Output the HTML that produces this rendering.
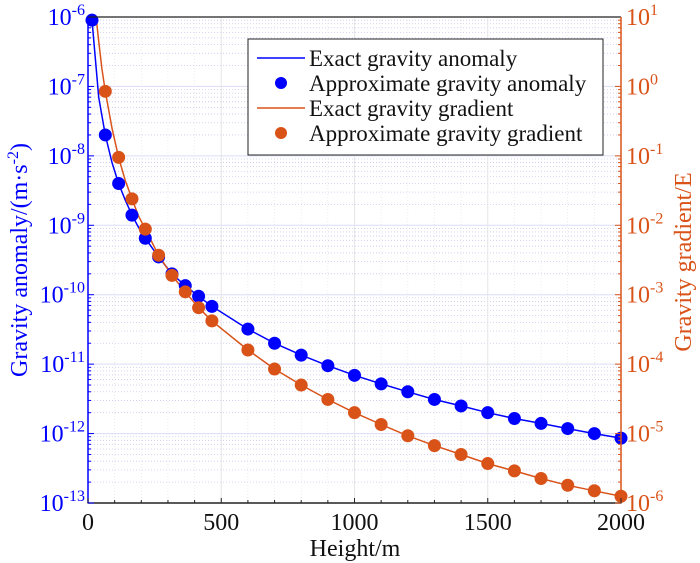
<!DOCTYPE html>
<html><head><meta charset="utf-8"><style>
html,body{margin:0;padding:0;background:#fff;}
svg{display:block;font-family:"Liberation Serif",serif;}
</style></head><body>
<svg id="chart" width="700" height="563" viewBox="0 0 700 563">
<g id="grid"></g>
<g id="series"></g>
<g id="axes"></g>
<text x="355" y="556" font-size="24" text-anchor="middle" fill="#111">Height/m</text>
<text transform="translate(27,260) rotate(-90)" font-size="24" text-anchor="middle" fill="#0000ff">Gravity anomaly/(m·s<tspan dy="-9" font-size="16">-2</tspan><tspan dy="9">)</tspan></text>
<text transform="translate(691,262) rotate(-90)" font-size="24" text-anchor="middle" fill="#d95319">Gravity gradient/E</text>
<g>
<rect x="248" y="39" width="355" height="116" fill="#fff" stroke="#222" stroke-width="1"/>
<g><line x1="257" y1="58" x2="305" y2="58" stroke="#0000ff" stroke-width="1.5"/><text x="309" y="66" font-size="23" fill="#111">Exact gravity anomaly</text></g>
<g><circle cx="281" cy="83" r="6" fill="#0000ff"/><text x="309" y="91" font-size="23" fill="#111">Approximate gravity anomaly</text></g>
<g><line x1="257" y1="108" x2="305" y2="108" stroke="#d95319" stroke-width="1.5"/><text x="309" y="116" font-size="23" fill="#111">Exact gravity gradient</text></g>
<g><circle cx="281" cy="133" r="6" fill="#d95319"/><text x="309" y="141" font-size="23" fill="#111">Approximate gravity gradient</text></g>
</g>
</svg>
<script>
const heights = [15,65,115,165,215,265,315,365,415,465,600,700,800,900,1000,1100,1200,1300,1400,1500,1600,1700,1800,1900,2000];
const anomalyValues = [9e-7,2e-8,4e-9,1.4e-9,6.5e-10,3.5e-10,2e-10,1.35e-10,9.5e-11,6.8e-11,3.2e-11,2e-11,1.35e-11,9.5e-12,6.9e-12,5.2e-12,4e-12,3.1e-12,2.5e-12,2e-12,1.65e-12,1.4e-12,1.18e-12,1e-12,8.6e-13];
const gradientHeights = [65,115,165,215,265,315,365,415,465,600,700,800,900,1000,1100,1200,1300,1400,1500,1600,1700,1800,1900,2000];
const gradientValues = [0.85,0.095,0.024,0.0088,0.0037,0.0019,0.0011,6.5e-4,4.2e-4,1.6e-4,8.5e-5,5e-5,3.1e-5,2e-5,1.35e-5,9.3e-6,6.7e-6,5e-6,3.7e-6,2.9e-6,2.25e-6,1.8e-6,1.5e-6,1.25e-6];
const exactAnomalyHeights = [5,15,40,65,90,115,140,165,190,215,265,315,365,415,465,600,700,800,900,1000,1100,1200,1300,1400,1500,1600,1700,1800,1900,2000];
const exactAnomalyValues = [1.2e-6,9e-7,7e-8,2e-8,8e-9,4e-9,2.3e-9,1.4e-9,9.3e-10,6.5e-10,3.5e-10,2e-10,1.35e-10,9.5e-11,6.8e-11,3.2e-11,2e-11,1.35e-11,9.5e-12,6.9e-12,5.2e-12,4e-12,3.1e-12,2.5e-12,2e-12,1.65e-12,1.4e-12,1.18e-12,1e-12,8.6e-13];
const exactGradientHeights = [28,40,52,65,90,115,140,165,190,215,265,315,365,415,465,600,700,800,900,1000,1100,1200,1300,1400,1500,1600,1700,1800,1900,2000];
const exactGradientValues = [12,4.5,1.8,0.85,0.25,0.095,0.044,0.024,0.0135,0.0088,0.0037,0.0019,0.0011,6.5e-4,4.2e-4,1.6e-4,8.5e-5,5e-5,3.1e-5,2e-5,1.35e-5,9.3e-6,6.7e-6,5e-6,3.7e-6,2.9e-6,2.25e-6,1.8e-6,1.5e-6,1.25e-6];
const xTicks = [0,500,1000,1500,2000];
const leftExps = [-6,-7,-8,-9,-10,-11,-12,-13];
const rightExps = [1,0,-1,-2,-3,-4,-5,-6];

const L=88,R=621,T=17,B=503;
const NS='http://www.w3.org/2000/svg';
const xS=v=>L+(v/2000)*(R-L);
const yL=v=>T+(-6-Math.log10(v))/7*(B-T);
const yR=v=>T+(1-Math.log10(v))/7*(B-T);
function mk(tag,attrs,parent){const e=document.createElementNS(NS,tag);for(const k in attrs)e.setAttribute(k,attrs[k]);parent.appendChild(e);return e;}
const grid=document.getElementById('grid'),axes=document.getElementById('axes'),series=document.getElementById('series');

for(let d=-13;d<-6;d++){for(let m=2;m<=9;m++){const y=yL(m*Math.pow(10,d));const g=mk('line',{x1:L,x2:R,y1:y,y2:y,stroke:'#c8c8f0','stroke-width':0.8,'stroke-dasharray':'1,2'},grid);

}}
for(let h=100;h<2000;h+=100){if(h%500===0)continue;const x=xS(h);const g=mk('line',{x1:x,x2:x,y1:T,y2:B,stroke:'#e0e0e0','stroke-width':0.6,'stroke-dasharray':'1,2'},grid);

}
leftExps.forEach(e=>{const y=yL(Math.pow(10,e));const g=mk('line',{x1:L,x2:R,y1:y,y2:y,stroke:'#dcdcf8','stroke-width':1},grid);

});
xTicks.forEach(h=>{const x=xS(h);const g=mk('line',{x1:x,x2:x,y1:T,y2:B,stroke:'#e6e6e6','stroke-width':1},grid);

});

function path(xs,ys,yf,color,name){const d=xs.map((h,i)=>(i?'L':'M')+xS(h).toFixed(1)+','+yf(ys[i]).toFixed(1)).join('');
const p=mk('path',{d:d,fill:'none',stroke:color,'stroke-width':1.5,'clip-path':'url(#clip)'},series);

}
const defs=mk('defs',{},series);const cp=mk('clipPath',{id:'clip'},defs);mk('rect',{x:L,y:T,width:R-L,height:B-T},cp);
path(exactAnomalyHeights,exactAnomalyValues,yL,'#0000ff','exact-anomaly-line');
path(exactGradientHeights,exactGradientValues,yR,'#d95319','exact-gradient-line');
heights.forEach((h,i)=>{const c=mk('circle',{cx:xS(h),cy:yL(anomalyValues[i]),r:6.5,fill:'#0000ff'},series);

});
gradientHeights.forEach((h,i)=>{const c=mk('circle',{cx:xS(h),cy:yR(gradientValues[i]),r:6.5,fill:'#d95319'},series);

});

mk('line',{x1:L,x2:R,y1:T,y2:T,stroke:'#222','stroke-width':1.2},axes);
mk('line',{x1:L-0.5,x2:R+0.5,y1:B,y2:B,stroke:'#222','stroke-width':1.5},axes);
mk('line',{x1:L,x2:L,y1:T,y2:B,stroke:'#0000ff','stroke-width':1.5},axes);
mk('line',{x1:R,x2:R,y1:T,y2:B,stroke:'#d95319','stroke-width':1.5},axes);
for(let h=0;h<=2000;h+=100){const x=xS(h);mk('line',{x1:x,x2:x,y1:B,y2:B-(h%500===0?5:3),stroke:'#222','stroke-width':1},axes);}
xTicks.forEach(h=>{const t=mk('text',{x:xS(h),y:B+27,'font-size':24,'text-anchor':'middle',fill:'#111'},axes);t.textContent=h;

});
for(let d=-13;d<-6;d++){for(let m=1;m<=9;m++){const y=yL(m*Math.pow(10,d));const len=m===1?6:3;
mk('line',{x1:L,x2:L+len,y1:y,y2:y,stroke:'#0000ff','stroke-width':1},axes);
mk('line',{x1:R,x2:R-len,y1:y,y2:y,stroke:'#d95319','stroke-width':1},axes);}}
leftExps.forEach(e=>{const y=yL(Math.pow(10,e));const t=mk('text',{x:L-3,y:y+8,'font-size':24,'text-anchor':'end',fill:'#0000ff'},axes);
t.innerHTML='10<tspan dy="-10" font-size="16">'+e+'</tspan>';

});
rightExps.forEach(e=>{const y=yR(Math.pow(10,e));const t=mk('text',{x:R+5,y:y+8,'font-size':24,'text-anchor':'start',fill:'#d95319'},axes);
t.innerHTML='10<tspan dy="-10" font-size="16">'+e+'</tspan>';

});
</script>
</body></html>
